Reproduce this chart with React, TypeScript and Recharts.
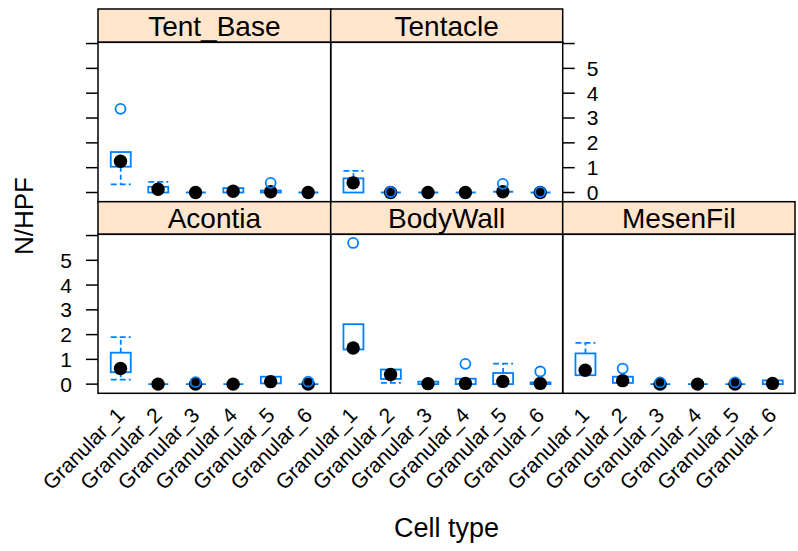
import React from 'react';
import { ComposedChart, Bar, Scatter, XAxis, YAxis } from 'recharts';

const categories = ['Granular_1', 'Granular_2', 'Granular_3', 'Granular_4', 'Granular_5', 'Granular_6'];
const panelNames = ['Tent_Base', 'Tentacle', 'Acontia', 'BodyWall', 'MesenFil'];
const yTicks = [0, 1, 2, 3, 4, 5, 6];

// Tent_Base
const tentBaseLow = [0.33, 0, 0, 0, 0, 0];
const tentBaseQ1 = [1.04, 0, 0, 0, 0, 0];
const tentBaseMed = [1.26, 0.13, 0, 0.05, 0.03, 0];
const tentBaseQ3 = [1.63, 0.23, 0, 0.18, 0.08, 0];
const tentBaseHigh = [1.63, 0.43, 0, 0.18, 0.08, 0];
const tentBaseOut = [3.37, null, null, null, 0.39, null];

// Tentacle
const tentacleLow = [0, 0, 0, 0, 0, 0];
const tentacleQ1 = [0, 0, 0, 0, 0, 0];
const tentacleMed = [0.39, 0, 0, 0, 0.03, 0];
const tentacleQ3 = [0.57, 0, 0, 0, 0.03, 0];
const tentacleHigh = [0.87, 0, 0, 0, 0.03, 0];
const tentacleOut = [null, 0.02, null, null, 0.35, 0.02];

// Acontia
const acontiaLow = [0.18, 0, 0, 0, 0.03, 0];
const acontiaQ1 = [0.48, 0, 0, 0, 0.03, 0];
const acontiaMed = [0.63, 0, 0, 0, 0.1, 0];
const acontiaQ3 = [1.27, 0, 0, 0, 0.3, 0];
const acontiaHigh = [1.9, 0, 0, 0, 0.3, 0];
const acontiaOut = [null, null, 0.08, null, null, 0.1];

// BodyWall
const bodyWallLow = [1.4, 0.05, 0, 0, 0, 0];
const bodyWallQ1 = [1.4, 0.21, 0, 0, 0, 0];
const bodyWallMed = [1.46, 0.39, 0.02, 0.03, 0.11, 0.03];
const bodyWallQ3 = [2.42, 0.59, 0.1, 0.22, 0.45, 0.07];
const bodyWallHigh = [2.42, 0.59, 0.1, 0.22, 0.83, 0.07];
const bodyWallOut = [5.7, null, null, 0.82, null, 0.51];

// MesenFil
const mesenFilLow = [0.36, 0.05, 0, 0, 0, 0];
const mesenFilQ1 = [0.36, 0.05, 0, 0, 0, 0];
const mesenFilMed = [0.56, 0.14, 0, 0, 0, 0.03];
const mesenFilQ3 = [1.24, 0.3, 0, 0, 0, 0.15];
const mesenFilHigh = [1.67, 0.3, 0, 0, 0, 0.15];
const mesenFilOut = [null, 0.63, 0.07, null, 0.07, null];

const BLUE = '#0080ff';
const FONT = '"Liberation Sans", Arial, sans-serif';
const W = 798;
const H = 551;
const COLS = [98, 330.7, 562.7, 795];
const ROWS = [
  { stripTop: 9, top: 42.3, bottom: 201.7 },
  { stripTop: 201.7, top: 234.3, bottom: 393.3 },
];
const Y_DOMAIN: [number, number] = [-0.37, 6.05];

function buildRows(low: number[], q1: number[], med: number[], q3: number[], high: number[], out: (number | null)[]) {
  return categories.map((cat, i) => ({
    cat,
    base: low[i],
    lw: q1[i] - low[i],
    box: q3[i] - q1[i],
    uw: high[i] - q3[i],
    med: med[i],
    out: out[i],
  }));
}

const panels = [
  { name: panelNames[0], row: 0, col: 0, y: 'leftTicks', x: false, data: buildRows(tentBaseLow, tentBaseQ1, tentBaseMed, tentBaseQ3, tentBaseHigh, tentBaseOut) },
  { name: panelNames[1], row: 0, col: 1, y: 'right', x: false, data: buildRows(tentacleLow, tentacleQ1, tentacleMed, tentacleQ3, tentacleHigh, tentacleOut) },
  { name: panelNames[2], row: 1, col: 0, y: 'left', x: true, data: buildRows(acontiaLow, acontiaQ1, acontiaMed, acontiaQ3, acontiaHigh, acontiaOut) },
  { name: panelNames[3], row: 1, col: 1, y: 'none', x: true, data: buildRows(bodyWallLow, bodyWallQ1, bodyWallMed, bodyWallQ3, bodyWallHigh, bodyWallOut) },
  { name: panelNames[4], row: 1, col: 2, y: 'none', x: true, data: buildRows(mesenFilLow, mesenFilQ1, mesenFilMed, mesenFilQ3, mesenFilHigh, mesenFilOut) },
];

const span = (p: any) => {
  const y = Math.min(p.y, p.y + p.height);
  const h = Math.abs(p.height);
  return { x: p.x, w: p.width, top: y, bottom: y + h, h };
};

const Empty = () => <g />;

const LowerWhisker = (p: any) => {
  const s = span(p);
  if (!(s.h > 0.5)) return <g />;
  const cx = s.x + s.w / 2;
  return (
    <g stroke={BLUE} strokeWidth={1.8} fill="none">
      <line x1={cx} x2={cx} y1={s.top} y2={s.bottom} strokeDasharray="5 3" />
      <line x1={s.x} x2={s.x + s.w} y1={s.bottom} y2={s.bottom} strokeDasharray="6 3" />
    </g>
  );
};

const UpperWhisker = (p: any) => {
  const s = span(p);
  if (!(s.h > 0.5)) return <g />;
  const cx = s.x + s.w / 2;
  return (
    <g stroke={BLUE} strokeWidth={1.8} fill="none">
      <line x1={cx} x2={cx} y1={s.bottom} y2={s.top} strokeDasharray="5 3" />
      <line x1={s.x} x2={s.x + s.w} y1={s.top} y2={s.top} strokeDasharray="6 3" />
    </g>
  );
};

const BoxShape = (p: any) => {
  const s = span(p);
  if (!(s.h > 0.8)) {
    return <line x1={s.x} x2={s.x + s.w} y1={s.top} y2={s.top} stroke={BLUE} strokeWidth={1.8} />;
  }
  return <rect x={s.x} y={s.top} width={s.w} height={s.h} stroke={BLUE} strokeWidth={1.8} fill="none" />;
};

const MedianDot = (p: any) => {
  if (p.payload == null || p.payload.med == null || !isFinite(p.cy)) return <g />;
  return <circle cx={p.cx} cy={p.cy} r={6.7} fill="#000" />;
};

const OutlierDot = (p: any) => {
  if (p.payload == null || p.payload.out == null || !isFinite(p.cy)) return <g />;
  return <circle cx={p.cx} cy={p.cy} r={5} fill="none" stroke={BLUE} strokeWidth={1.8} />;
};

const XTick = (p: any) => {
  const ax = p.x;
  const ay = p.y + 18;
  return (
    <text
      x={ax}
      y={ay}
      transform={`rotate(-45 ${ax} ${ay})`}
      textAnchor="end"
      dominantBaseline="central"
      fontSize={21}
      fontFamily={FONT}
      fill="#000"
    >
      {p.payload.value}
    </text>
  );
};

const Y_AXIS_W = 60;
const X_AXIS_H = 30;

function Panel({ panel }: { panel: any }) {
  const left = COLS[panel.col];
  const right = COLS[panel.col + 1];
  const r = ROWS[panel.row];
  const hasLeft = panel.y === 'left' || panel.y === 'leftTicks';
  const hasRight = panel.y === 'right';
  const margin = {
    top: r.top,
    left: left - (hasLeft ? Y_AXIS_W : 0),
    right: W - right - (hasRight ? Y_AXIS_W : 0),
    bottom: H - r.bottom - (panel.x ? X_AXIS_H : 0),
  };
  const fmt = (v: number) => (v === 6 || panel.y === 'leftTicks' ? '' : String(v));
  return (
    <div style={{ position: 'absolute', left: 0, top: 0 }}>
      <ComposedChart width={W} height={H} data={panel.data} margin={margin}>
        <XAxis
          dataKey="cat"
          type="category"
          hide={!panel.x}
          height={X_AXIS_H}
          padding={{ left: 3.75, right: 3.75 }}
          interval={0}
          tickLine={false}
          axisLine={false}
          tickSize={0}
          tickMargin={0}
          tick={<XTick />}
        />
        <YAxis
          type="number"
          domain={Y_DOMAIN}
          allowDataOverflow
          ticks={yTicks}
          interval={0}
          hide={!(hasLeft || hasRight)}
          orientation={hasRight ? 'right' : 'left'}
          width={Y_AXIS_W}
          axisLine={false}
          tickSize={12}
          tickMargin={hasRight ? 12 : 14}
          tickLine={{ stroke: '#000', strokeWidth: 1.5 }}
          tickFormatter={fmt}
          tick={{ fontSize: 21, fill: '#000', fontFamily: FONT }}
        />
        <Bar dataKey="base" stackId="s" barSize={20} shape={<Empty />} isAnimationActive={false} />
        <Bar dataKey="lw" stackId="s" barSize={20} shape={<LowerWhisker />} isAnimationActive={false} />
        <Bar dataKey="box" stackId="s" barSize={20} shape={<BoxShape />} isAnimationActive={false} />
        <Bar dataKey="uw" stackId="s" barSize={20} shape={<UpperWhisker />} isAnimationActive={false} />
        <Scatter dataKey="med" shape={<MedianDot />} isAnimationActive={false} />
        <Scatter dataKey="out" shape={<OutlierDot />} isAnimationActive={false} />
      </ComposedChart>
    </div>
  );
}

export default function App() {
  return (
    <div style={{ position: 'absolute', left: 0, top: 0, width: W, height: H, background: '#fff', fontFamily: FONT }}>
      {panels.map((p) => (
        <Panel key={p.name} panel={p} />
      ))}
      <svg width={W} height={H} style={{ position: 'absolute', left: 0, top: 0, pointerEvents: 'none' }}>
        {panels.map((p) => {
          const l = COLS[p.col];
          const rr = COLS[p.col + 1];
          const row = ROWS[p.row];
          return (
            <g key={p.name}>
              <rect x={l} y={row.stripTop} width={rr - l} height={row.top - row.stripTop} fill="#ffe5cc" stroke="#000" strokeWidth={1.5} />
              <rect x={l} y={row.top} width={rr - l} height={row.bottom - row.top} fill="none" stroke="#000" strokeWidth={1.5} />
              <text x={(l + rr) / 2} y={row.top - 6.5} textAnchor="middle" fontSize={28} fontFamily={FONT} fill="#000">
                {p.name}
              </text>
            </g>
          );
        })}
        <text x={446.5} y={537} textAnchor="middle" fontSize={27} fontFamily={FONT} fill="#000">
          Cell type
        </text>
        <text x={33} y={216} textAnchor="middle" fontSize={26} fontFamily={FONT} fill="#000" transform="rotate(-90 33 216)">
          N/HPF
        </text>
      </svg>
    </div>
  );
}
